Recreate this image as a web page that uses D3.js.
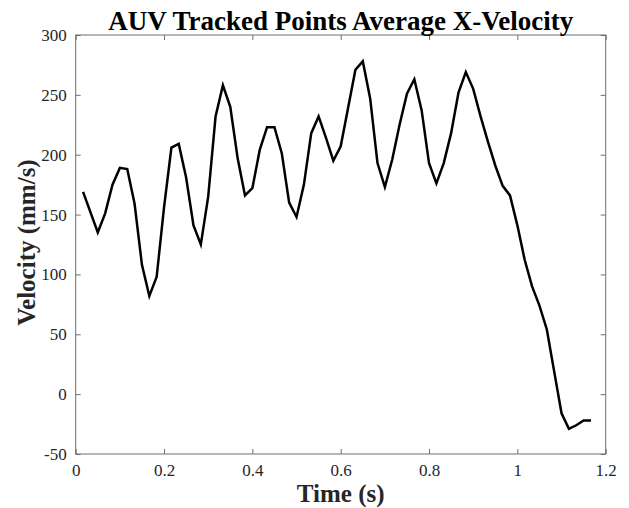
<!DOCTYPE html>
<html>
<head>
<meta charset="utf-8">
<script src="https://cdn.jsdelivr.net/npm/d3@7"></script>
<style>
  html, body { margin: 0; padding: 0; background: #fff; }
  svg { display: block; }
</style>
</head>
<body>
<svg id="chart" width="629" height="508"></svg>
<script>
// ---- Data ----
const time = [
  0.0167, 0.0333, 0.0500, 0.0667, 0.0833, 0.1000, 0.1167, 0.1333, 0.1500, 0.1667,
  0.1833, 0.2000, 0.2167, 0.2333, 0.2500, 0.2667, 0.2833, 0.3000, 0.3167, 0.3333,
  0.3500, 0.3667, 0.3833, 0.4000, 0.4167, 0.4333, 0.4500, 0.4667, 0.4833, 0.5000,
  0.5167, 0.5333, 0.5500, 0.5667, 0.5833, 0.6000, 0.6167, 0.6333, 0.6500, 0.6667,
  0.6833, 0.7000, 0.7167, 0.7333, 0.7500, 0.7667, 0.7833, 0.8000, 0.8167, 0.8333,
  0.8500, 0.8667, 0.8833, 0.9000, 0.9167, 0.9333, 0.9500, 0.9667, 0.9833, 1.0000,
  1.0167, 1.0333, 1.0500, 1.0667, 1.0833, 1.1000, 1.1167, 1.1333, 1.1500, 1.1667
];
const velocity = [
  169, 152, 135, 151, 175, 189, 188, 159, 108, 82,
  98, 156, 206, 209, 181, 141, 125, 165, 232, 258,
  240, 197, 166, 172, 204, 223, 223, 201, 160, 148,
  175, 218, 232, 214, 195, 207, 239, 271, 278, 247,
  193, 173, 196, 225, 251, 263, 237, 193, 176, 193,
  218, 252, 269, 255, 232, 211, 191, 174, 166, 141,
  112, 90, 74, 54, 19, -16, -29, -26, -22, -22
];
const xTicks = [0, 0.2, 0.4, 0.6, 0.8, 1, 1.2];
const yTicks = [-50, 0, 50, 100, 150, 200, 250, 300];
const titleText = "AUV Tracked Points Average X-Velocity";
const xLabelText = "Time (s)";
const yLabelText = "Velocity (mm/s)";

// ---- Layout ----
const svg = d3.select("#chart");
const L = 75.7, R = 605.7, T = 35, B = 454;
const x = d3.scaleLinear().domain([0, 1.2]).range([L, R]);
const y = d3.scaleLinear().domain([-50, 300]).range([B, T]);

const axisColor = "#6e6e6e";
const textColor = "#262626";
const font = "'Liberation Serif', 'Times New Roman', serif";
const tickLen = 5;

function styleAxis(g, showLabels) {
  g.select(".domain").remove();
  g.selectAll(".tick line").attr("stroke", axisColor).attr("stroke-width", 1);
  g.selectAll(".tick text")
    .attr("fill", textColor)
    .style("font-family", font)
    .style("font-size", "17px");
  if (!showLabels) g.selectAll(".tick text").remove();
}

const fmt = d => String(+d.toFixed(1));

// bottom
svg.append("g").attr("transform", `translate(0,${B})`)
  .call(d3.axisBottom(x).tickValues(xTicks).tickSizeInner(-tickLen).tickSizeOuter(0).tickPadding(10).tickFormat(fmt))
  .call(g => styleAxis(g, true));
// top
svg.append("g").attr("transform", `translate(0,${T})`)
  .call(d3.axisTop(x).tickValues(xTicks).tickSizeInner(-tickLen).tickSizeOuter(0))
  .call(g => styleAxis(g, false));
// left
svg.append("g").attr("transform", `translate(${L},0)`)
  .call(d3.axisLeft(y).tickValues(yTicks).tickSizeInner(-tickLen).tickSizeOuter(0).tickPadding(9).tickFormat(d => String(d)))
  .call(g => styleAxis(g, true));
// right
svg.append("g").attr("transform", `translate(${R},0)`)
  .call(d3.axisRight(y).tickValues(yTicks).tickSizeInner(-tickLen).tickSizeOuter(0))
  .call(g => styleAxis(g, false));

// box
svg.append("rect")
  .attr("x", L).attr("y", T).attr("width", R - L).attr("height", B - T)
  .attr("fill", "none").attr("stroke", axisColor).attr("stroke-width", 1);

// line
const line = d3.line().x((d, i) => x(time[i])).y(d => y(d));
svg.append("path")
  .datum(velocity)
  .attr("d", line)
  .attr("fill", "none")
  .attr("stroke", "#000")
  .attr("stroke-width", 2.5)
  .attr("stroke-linejoin", "miter");

// title
svg.append("text")
  .attr("x", (L + R) / 2).attr("y", 30)
  .attr("text-anchor", "middle")
  .style("font-family", font).style("font-weight", "bold").style("font-size", "27px")
  .attr("fill", "#000")
  .text(titleText);

// x label
svg.append("text")
  .attr("x", (L + R) / 2).attr("y", 502)
  .attr("text-anchor", "middle")
  .style("font-family", font).style("font-weight", "bold").style("font-size", "25px")
  .attr("fill", textColor)
  .text(xLabelText);

// y label
svg.append("text")
  .attr("transform", `translate(35,${(T + B) / 2 - 2}) rotate(-90)`)
  .attr("text-anchor", "middle")
  .style("font-family", font).style("font-weight", "bold").style("font-size", "25px")
  .attr("fill", textColor)
  .text(yLabelText);
</script>
</body>
</html>
